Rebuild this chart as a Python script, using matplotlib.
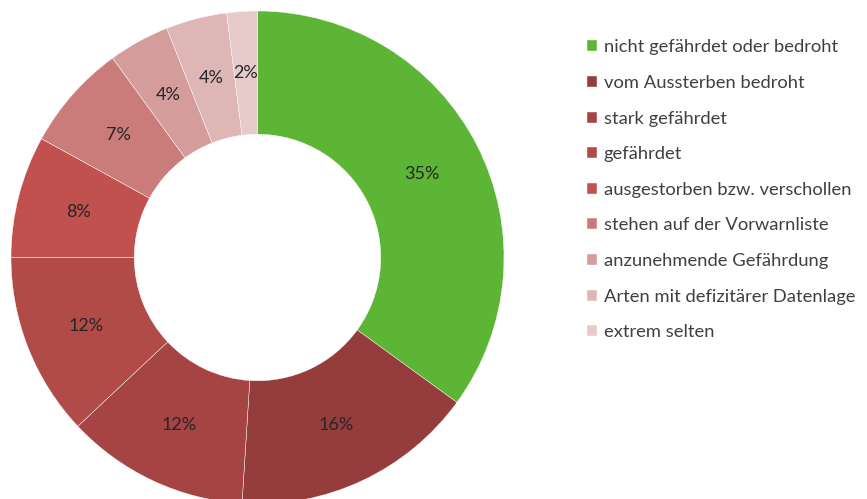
import matplotlib
matplotlib.use('Agg')
import matplotlib.pyplot as plt

plt.rcParams['font.family'] = ['Lato', 'DejaVu Sans']

categories = ['nicht gefährdet oder bedroht', 'vom Aussterben bedroht', 'stark gefährdet',
              'gefährdet', 'ausgestorben bzw. verschollen', 'stehen auf der Vorwarnliste',
              'anzunehmende Gefährdung', 'Arten mit defizitärer Datenlage', 'extrem selten']
shares = [35, 16, 12, 12, 8, 7, 4, 4, 2]
colors = ['#5db535', '#953c3c', '#a64443', '#b14b48', '#c0514e', '#ca7c7b',
          '#d49c9b', '#deb6b5', '#e7cbcb']

W, H = 867, 499
fig = plt.figure(figsize=(W / 100, H / 100), dpi=100)

# pie centre / radius in pixels (from top-left)
cx, cy, r = 257.5, 257.5, 246.5
ax = fig.add_axes([(cx - r) / W, (H - cy - r) / H, 2 * r / W, 2 * r / H])

wedges, texts, autotexts = ax.pie(
    shares, colors=colors, startangle=90, counterclock=False,
    autopct='%1.0f%%', pctdistance=0.75,
    wedgeprops=dict(width=0.5, edgecolor='white', linewidth=0.3),
    textprops=dict(fontsize=13, color='#262626'))
ax.set_xlim(-1, 1)
ax.set_ylim(-1, 1)

leg = fig.legend(wedges, categories, loc='upper left',
                 bbox_to_anchor=(580 / W, 1 - 32 / H), frameon=False,
                 fontsize=13.2, handlelength=0.55, handleheight=0.55,
                 handletextpad=0.35, labelspacing=1.07, borderaxespad=0)
for t in leg.get_texts():
    t.set_color('#404040')

plt.savefig('out.png', dpi=100)
